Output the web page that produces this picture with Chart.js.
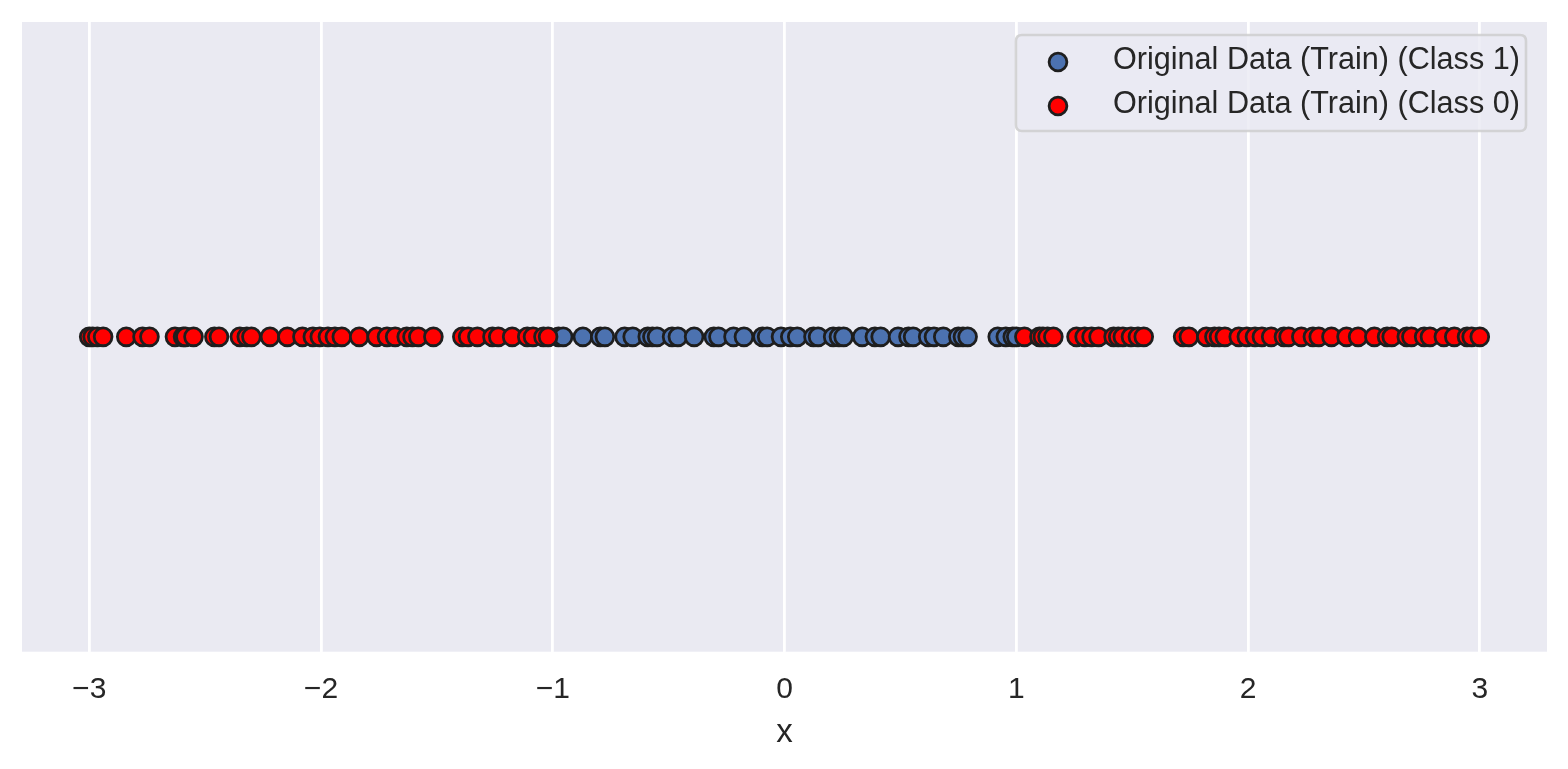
<!DOCTYPE html>
<html>
<head>
<meta charset="utf-8">
<script src="https://cdn.jsdelivr.net/npm/chart.js@4.4.1/dist/chart.umd.min.js"></script>
<style>
  html, body { margin: 0; padding: 0; background: #ffffff; }
  canvas { display: block; }
</style>
</head>
<body>
<canvas id="c" width="1568" height="769"></canvas>
<script>
// ---- data ----
const CLASS1_LABEL = "Original Data (Train) (Class 1)";
const CLASS0_LABEL = "Original Data (Train) (Class 0)";
const CLASS1_X = [-0.975, -0.955, -0.87, -0.795, -0.775, -0.69, -0.655, -0.59, -0.57, -0.55,
  -0.485, -0.46, -0.39, -0.305, -0.285, -0.22, -0.175, -0.095, -0.075, -0.015,
  0.025, 0.055, 0.125, 0.145, 0.21, 0.235, 0.255, 0.335, 0.39, 0.415,
  0.49, 0.535, 0.555, 0.62, 0.645, 0.685, 0.75, 0.77, 0.79, 0.92, 0.955, 0.985, 1.00];
const CLASS0_X = [-3.00, -2.985, -2.965, -2.94, -2.84, -2.77, -2.74, -2.63, -2.595, -2.585,
  -2.55, -2.46, -2.44, -2.35, -2.32, -2.30, -2.22, -2.145, -2.08, -2.035,
  -2.005, -1.97, -1.94, -1.91, -1.835, -1.76, -1.715, -1.68, -1.63, -1.605,
  -1.58, -1.515, -1.39, -1.365, -1.325, -1.26, -1.235, -1.175, -1.11, -1.085,
  -1.04, -1.02,
  1.035, 1.10, 1.115, 1.135, 1.16, 1.26, 1.295, 1.325, 1.355, 1.42,
  1.44, 1.46, 1.495, 1.525, 1.55, 1.72, 1.745, 1.82, 1.855, 1.875,
  1.90, 1.96, 1.995, 2.03, 2.06, 2.10, 2.155, 2.175, 2.23, 2.28,
  2.305, 2.36, 2.425, 2.475, 2.545, 2.60, 2.62, 2.685, 2.705, 2.76,
  2.785, 2.845, 2.89, 2.945, 2.965, 3.00];
const X_TICKS = [-3, -2, -1, 0, 1, 2, 3];
const X_LABEL = "x";

// ---- styles ----
const FONT = "'Liberation Sans', Arial, Helvetica, sans-serif";
const TEXT = "#262626";
const BLUE = "#4C72B0";
const RED = "#FF0000";
const EDGE = "#1e1e1e";
const PR = 8.9, PBW = 2.8;

const bgPlugin = {
  id: 'bg',
  beforeDraw(chart) {
    const {ctx, chartArea: a} = chart;
    ctx.save();
    ctx.fillStyle = '#EAEAF2';
    ctx.fillRect(a.left, a.top, a.right - a.left, a.bottom - a.top);
    ctx.restore();
  }
};

const legendPlugin = {
  id: 'customLegend',
  afterDraw(chart) {
    const {ctx} = chart;
    const x0 = 1016, y0 = 35, x1 = 1526, y1 = 131, r = 6;
    ctx.save();
    ctx.beginPath();
    ctx.moveTo(x0 + r, y0);
    ctx.lineTo(x1 - r, y0); ctx.quadraticCurveTo(x1, y0, x1, y0 + r);
    ctx.lineTo(x1, y1 - r); ctx.quadraticCurveTo(x1, y1, x1 - r, y1);
    ctx.lineTo(x0 + r, y1); ctx.quadraticCurveTo(x0, y1, x0, y1 - r);
    ctx.lineTo(x0, y0 + r); ctx.quadraticCurveTo(x0, y0, x0 + r, y0);
    ctx.closePath();
    ctx.fillStyle = 'rgba(234,234,242,0.8)';
    ctx.fill();
    ctx.lineWidth = 2.6;
    ctx.strokeStyle = 'rgba(204,204,204,0.8)';
    ctx.stroke();
    const ds = chart.data.datasets;
    const rows = [62, 106];
    ds.forEach((d, i) => {
      const y = rows[i];
      ctx.beginPath();
      ctx.arc(1058, y, PR, 0, Math.PI * 2);
      ctx.fillStyle = d.backgroundColor;
      ctx.fill();
      ctx.lineWidth = PBW;
      ctx.strokeStyle = EDGE;
      ctx.stroke();
      ctx.fillStyle = TEXT;
      ctx.font = "30.6px " + FONT;
      ctx.textBaseline = 'middle';
      ctx.textAlign = 'left';
      ctx.fillText(d.label, 1113, y - 1);
    });
    ctx.restore();
  }
};

const toPts = arr => arr.map(x => ({x: x, y: 0}));

new Chart(document.getElementById('c'), {
  type: 'scatter',
  data: {
    datasets: [
      { label: CLASS1_LABEL, data: toPts(CLASS1_X), backgroundColor: BLUE, borderColor: EDGE,
        pointRadius: PR, pointBorderWidth: PBW, pointHoverRadius: PR, order: 1 },
      { label: CLASS0_LABEL, data: toPts(CLASS0_X), backgroundColor: RED, borderColor: EDGE,
        pointRadius: PR, pointBorderWidth: PBW, pointHoverRadius: PR, order: 0 }
    ]
  },
  options: {
    responsive: false,
    animation: false,
    devicePixelRatio: 1,
    layout: { padding: { left: 22, right: 21, top: 22, bottom: 0 } },
    plugins: { legend: { display: false }, tooltip: { enabled: false } },
    scales: {
      x: {
        type: 'linear',
        min: -3.29, max: 3.29,
        afterBuildTicks(scale) { scale.ticks = X_TICKS.map(v => ({value: v})); },
        afterFit(scale) { scale.height = 117.3; },
        grid: { color: '#ffffff', lineWidth: 2.8, drawTicks: false },
        border: { display: false },
        ticks: {
          padding: 20,
          color: TEXT,
          font: { family: FONT, size: 30 },
          callback: v => (v < 0 ? '\u2212' + Math.abs(v) : String(v)),
          maxRotation: 0, autoSkip: false
        },
        title: {
          display: true, text: X_LABEL, color: TEXT,
          font: { family: FONT, size: 33 },
          padding: { top: 5, bottom: 16 }
        }
      },
      y: {
        display: false,
        min: -1, max: 1
      }
    }
  },
  plugins: [bgPlugin, legendPlugin]
});
</script>
</body>
</html>
